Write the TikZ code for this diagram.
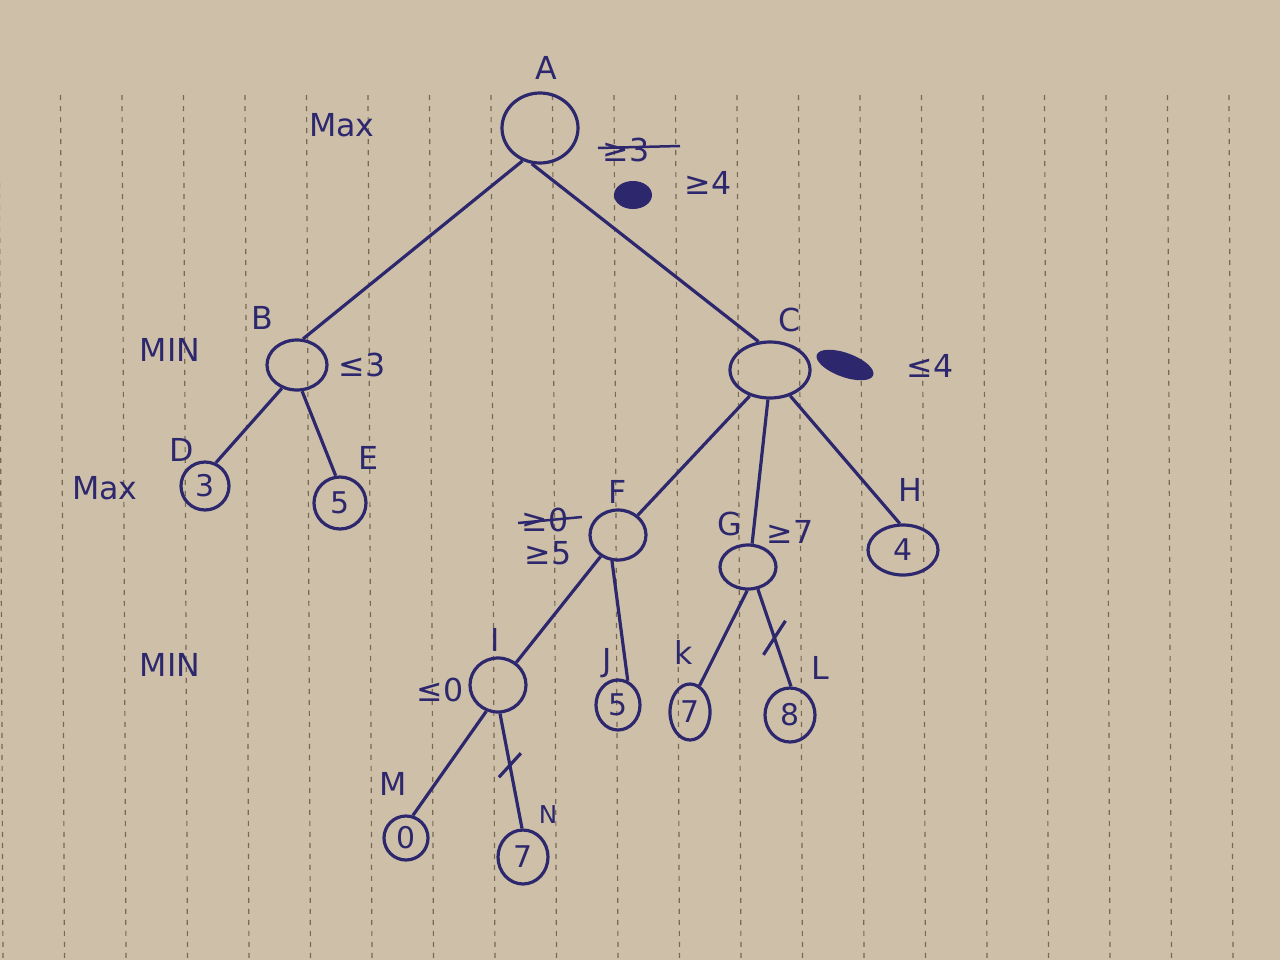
\documentclass[tikz,border=0pt]{standalone}
\usepackage{fontspec}
\setmainfont{DejaVu Sans}
\usetikzlibrary{shapes.geometric,calc}
\definecolor{ink}{RGB}{45,40,110}
\definecolor{paper}{RGB}{206,192,168}
\definecolor{rulecol}{RGB}{120,104,84}

\begin{document}
\begin{tikzpicture}[x=0.1mm,y=-0.1mm]
  \tikzset{state/.style={draw=ink, ellipse, line width=0.32mm, inner sep=0pt,
        text=ink, font=\fontsize{8.5}{8.5}\selectfont},
      tag/.style={text=ink, font=\fontsize{9}{9}\selectfont},
      edge/.style={draw=ink, line width=0.32mm}}
  % paper
  \fill[paper] (0,0) rectangle (1280,960);
  \useasboundingbox (0,0) rectangle (1280,960);
  \foreach \i in {0,...,20}
    \draw[rulecol, line width=0.12mm, dash pattern=on 0.5mm off 0.6mm] ({-1+61.5*\i},95) -- ({3+61.5*\i},960);

  % tree nodes
  \node[state, minimum width=7.6mm, minimum height=7mm] (A) at (540,128) {};
  \node[state, minimum width=6mm, minimum height=5mm] (B) at (297,365) {};
  \node[state, minimum width=8mm, minimum height=5.6mm] (C) at (770,370) {};
  \node[state, minimum width=4.8mm, minimum height=4.8mm] (D) at (205,486) {3};
  \node[state, minimum width=5.2mm, minimum height=5.2mm] (E) at (340,503) {5};
  \node[state, minimum width=5.6mm, minimum height=5mm] (F) at (618,535) {};
  \node[state, minimum width=5.6mm, minimum height=4.4mm] (G) at (748,567) {};
  \node[state, minimum width=7mm, minimum height=5mm] (H) at (903,550) {4};
  \node[state, minimum width=5.6mm, minimum height=5.4mm] (I) at (498,685) {};
  \node[state, minimum width=4.4mm, minimum height=5mm] (J) at (618,705) {5};
  \node[state, minimum width=4mm, minimum height=5.6mm] (K) at (690,712) {7};
  \node[state, minimum width=5mm, minimum height=5.4mm] (L) at (790,715) {8};
  \node[state, minimum width=4.4mm, minimum height=4.4mm] (M) at (406,838) {0};
  \node[state, minimum width=5mm, minimum height=5.4mm] (N) at (523,857) {7};

  % edges
  \draw[edge] (A.-118) -- (B.77);
  \draw[edge] (A.-103) -- (C.112);
  \draw[edge] (B.-123) -- (D.65);
  \draw[edge] (B.-79) -- (E.99);
  \draw[edge] (C.-128) -- (F.45);
  \draw[edge] (C.-94) -- (G.80);
  \draw[edge] (C.-52) -- (H.97);
  \draw[edge] (F.-129) -- (I.51);
  \draw[edge] (F.-103) -- (J.68);
  \draw[edge] (G.-92) -- (K.70);
  \draw[edge] (G.-66) -- (L.88);
  \draw[edge] (I.-114) -- (M.73);
  \draw[edge] (I.-86) -- (N.92);

  % pruned branches
  \coordinate (cutGL) at ($(G.-66)!0.5!(L.88)$);
  \draw[edge] ($(cutGL)+(-11,17)$) -- ($(cutGL)+(11,-17)$);
  \coordinate (cutIN) at ($(I.-86)!0.45!(N.92)$);
  \draw[edge] ($(cutIN)+(-11,12)$) -- ($(cutIN)+(11,-12)$);

  % names
  \node[tag] (nA) at (546,68) {A};
  \node[tag] (nB) at (262,318) {B};
  \node[tag] (nC) at (790,320) {C};
  \node[tag] (nD) at (182,450) {D};
  \node[tag] (nE) at (368,458) {E};
  \node[tag] (nF) at (618,492) {F};
  \node[tag] (nG) at (730,524) {G};
  \node[tag] (nH) at (910,490) {H};
  \node[tag] (nI) at (495,640) {I};
  \node[tag] (nJ) at (607,663) {J};
  \node[tag] (nK) at (684,652) {k};
  \node[tag] (nL) at (820,668) {L};
  \node[tag] (nM) at (393,784) {M};
  \node[tag, font=\fontsize{7}{7}\selectfont] (nN) at (548,815) {N};

  % levels
  \node[tag] (lv1) at (342,125) {Max};
  \node[tag] (lv2) at (170,350) {MIN};
  \node[tag] (lv3) at (105,488) {Max};
  \node[tag] (lv4) at (170,665) {MIN};

  % bounds
  \node[tag] (bA1) at (626,150) {≥3};
  \draw[ink, line width=0.25mm] (598,148) -- (680,146);
  \fill[ink] (633,195) ellipse [x radius=19, y radius=14];
  \node[tag] (bA2) at (708,183) {≥4};
  \node[tag] (bB) at (362,365) {≤3};
  \fill[ink, rotate around={-20:(845,365)}] (845,365) ellipse [x radius=30, y radius=12];
  \node[tag] (bC) at (930,366) {≤4};
  \node[tag] (bF1) at (545,520) {≥0};
  \draw[ink, line width=0.25mm] (518,523) -- (582,517);
  \node[tag] (bF2) at (548,553) {≥5};
  \node[tag] (bG) at (790,532) {≥7};
  \node[tag] (bI) at (440,690) {≤0};
\end{tikzpicture}
\end{document}
